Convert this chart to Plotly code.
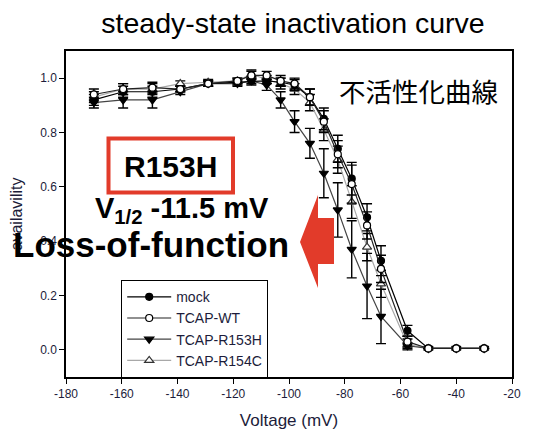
import plotly.graph_objects as go

# ---------------- data ----------------
voltage = [-170, -159.5, -149, -139, -129, -118.5, -113.5, -108, -103, -98,
           -92.5, -87.5, -82.5, -77.5, -72, -67, -57.5, -50, -40, -30]

mock = [0.92, 0.95, 0.95, 0.96, 0.98, 0.985, 0.99, 0.99, 0.985, 0.975,
        0.93, 0.85, 0.74, 0.63, 0.488, 0.328, 0.07, 0.005, 0.005, 0.005]
mock_err = [0.02, 0.02, 0.02, 0.01, 0.01, 0.01, 0.01, 0.01, 0.015, 0.02,
            0.03, 0.04, 0.05, 0.06, 0.05, 0.055, 0.02, 0.0, 0.0, 0.0]

wt = [0.94, 0.96, 0.965, 0.96, 0.98, 0.99, 1.01, 1.01, 0.99, 0.98,
      0.93, 0.84, 0.72, 0.61, 0.458, 0.298, 0.03, 0.005, 0.005, 0.005]
wt_err = [0.02, 0.02, 0.02, 0.01, 0.01, 0.01, 0.015, 0.015, 0.02, 0.02,
          0.03, 0.04, 0.05, 0.07, 0.05, 0.05, 0.02, 0.0, 0.0, 0.0]

r153h = [0.91, 0.92, 0.92, 0.95, 0.98, 0.98, 0.99, 0.975, 0.92, 0.84,
         0.76, 0.65, 0.515, 0.37, 0.235, 0.123, 0.015, 0.005, 0.005, 0.005]
r153h_err = [0.02, 0.03, 0.03, 0.01, 0.01, 0.01, 0.015, 0.02, 0.03, 0.04,
             0.055, 0.09, 0.10, 0.105, 0.12, 0.10, 0.01, 0.0, 0.0, 0.0]

r154c = [0.93, 0.96, 0.96, 0.98, 0.985, 0.99, 1.015, 0.995, 0.98, 0.96,
         0.91, 0.81, 0.70, 0.544, 0.378, 0.243, 0.02, 0.005, 0.005, 0.005]
r154c_err = [0.02, 0.02, 0.02, 0.01, 0.01, 0.01, 0.015, 0.015, 0.02, 0.02,
             0.03, 0.04, 0.05, 0.06, 0.05, 0.05, 0.02, 0.0, 0.0, 0.0]

x_tickvals = [-180, -160, -140, -120, -100, -80, -60, -40, -20]
x_ticktext = ["-180", "-160", "-140", "-120", "-100", "-80", "-60", "-40", "-20"]
y_tickvals = [0.0, 0.2, 0.4, 0.6, 0.8, 1.0]
y_ticktext = ["0.0", "0.2", "0.4", "0.6", "0.8", "1.0"]

# ---------------- layout helpers ----------------
# the page body has an 8px default margin, so the figure is drawn 8px in
OFF = 8
W, H = 534 - OFF, 432 - OFF
L, R, T, B = 66 - OFF, 22, 51 - OFF, 55
PW, PH = W - L - R, H - T - B


def px(xp):  # reference-pixel x -> paper
    return (xp - OFF - L) / PW


def py(yp):  # reference-pixel y -> paper
    return (H - B - (yp - OFF)) / PH


FONT = "Liberation Sans, Arial, sans-serif"
TICKCOL = "#1c1c3a"

fig = go.Figure()


def add_series(name, y, err, symbol, mcolor, mline, lcolor, size, rank):
    fig.add_trace(go.Scatter(
        x=voltage, y=y, name=name, mode="lines+markers",
        line=dict(color=lcolor, width=1.2),
        marker=dict(symbol=symbol, size=size, color=mcolor,
                    line=dict(color=mline, width=1.2)),
        error_y=dict(type="data", array=err, visible=True,
                     color="black", thickness=1.4, width=5),
        legendrank=rank,
    ))


# drawing order (WT on top), legend order via legendrank
add_series("TCAP-R154C", r154c, r154c_err, "triangle-up", "white", "#333333", "#a8a8a8", 8, 4)
add_series("TCAP-R153H", r153h, r153h_err, "triangle-down", "black", "black", "#444444", 8, 3)
add_series("mock", mock, mock_err, "circle", "black", "black", "black", 7, 1)
add_series("TCAP-WT", wt, wt_err, "circle", "white", "black", "#222222", 7, 2)

# red box around R153H
fig.add_shape(type="rect", xref="paper", yref="paper",
              x0=px(108.5), x1=px(233), y0=py(192.5), y1=py(138.5),
              line=dict(color="#e23b2a", width=4), fillcolor="rgba(0,0,0,0)")

# red arrow pointing left
pts = [(300, 242), (318, 195), (318, 218), (334, 218), (334, 264),
       (318, 264), (318, 288)]
path = "M " + " L ".join(f"{px(a):.4f},{py(b):.4f}" for a, b in pts) + " Z"
fig.add_shape(type="path", xref="paper", yref="paper", path=path,
              line=dict(width=0), fillcolor="#e23b2a")

annots = [
    dict(text="不活性化曲線", x=px(418), y=py(90), size=26.5,
         family="Noto Sans CJK JP, sans-serif"),
    dict(text="<b>R153H</b>", x=px(170.5), y=py(166), size=30, family=FONT),
    dict(text="<b>V<sub>1/2</sub> -11.5 mV</b>", x=px(182), y=py(210), size=29, family=FONT),
    dict(text="<b>Loss-of-function</b>", x=px(151), y=py(244), size=35, family=FONT),
]
for a in annots:
    fig.add_annotation(text=a["text"], x=a["x"], y=a["y"], xref="paper", yref="paper",
                       showarrow=False, xanchor="center", yanchor="middle",
                       font=dict(size=a["size"], family=a["family"], color="black"))

fig.update_layout(
    width=W, height=H,
    margin=dict(l=L, r=R, t=T, b=B),
    paper_bgcolor="white", plot_bgcolor="white",
    title=dict(text="steady-state inactivation curve", x=(293 - OFF) / W, xanchor="center",
               y=1 - (23 - OFF) / H, yanchor="middle",
               font=dict(size=28.5, family=FONT, color="black")),
    font=dict(family=FONT, color=TICKCOL),
    showlegend=True,
    legend=dict(x=px(121), y=py(280), xanchor="left", yanchor="top",
                bgcolor="white", bordercolor="black", borderwidth=1.2,
                font=dict(size=14, family=FONT, color=TICKCOL),
                tracegroupgap=0, itemwidth=44),
    xaxis=dict(range=[-180, -20], tickvals=x_tickvals, ticktext=x_ticktext,
               ticks="outside", ticklen=5, tickwidth=1.2, tickcolor="black",
               showline=True, linecolor="black", linewidth=1.5, mirror=True,
               showgrid=False, zeroline=False, automargin=False,
               tickfont=dict(size=12, color=TICKCOL),
               title=dict(text="Voltage (mV)", standoff=14,
                          font=dict(size=17, color=TICKCOL))),
    yaxis=dict(range=[-0.1, 1.1], tickvals=y_tickvals, ticktext=y_ticktext,
               ticks="outside", ticklen=5, tickwidth=1.2, tickcolor="black",
               showline=True, linecolor="black", linewidth=1.5, mirror=True,
               showgrid=False, zeroline=False, automargin=False,
               tickfont=dict(size=12, color=TICKCOL),
               title=dict(text="availavility", standoff=16,
                          font=dict(size=16, color=TICKCOL))),
)

fig.write_html("out.html")
